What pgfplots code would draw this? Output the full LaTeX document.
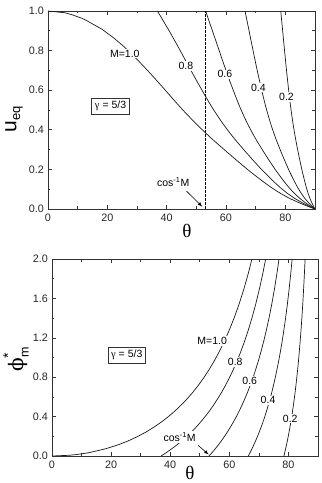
\documentclass[border=0pt]{standalone}
\usepackage{pgfplots}
\pgfplotsset{compat=1.18}
\usepackage{pgfplotstable}
\usepackage{fontspec}
\setmainfont{Liberation Sans}
\newfontfamily\grk{Liberation Serif}
\newfontfamily\djs{DejaVu Serif}

\pgfplotstableread{
x u t10 t08 t06 t04 t02
1.000 1.000 0.00 36.87 53.13 66.42 78.46
0.995 0.991 5.73 37.25 53.34 66.55 78.52
0.990 0.981 8.11 37.63 53.56 66.67 78.58
0.980 0.963 11.48 38.38 53.98 66.92 78.70
0.975 0.953 12.84 38.74 54.20 67.05 78.76
0.950 0.908 18.19 40.54 55.25 67.67 79.05
0.925 0.862 22.33 42.27 56.29 68.28 79.34
0.900 0.817 25.84 43.95 57.32 68.90 79.63
0.875 0.772 28.96 45.57 58.33 69.51 79.92
0.850 0.728 31.79 47.16 59.34 70.12 80.21
0.825 0.686 34.41 48.70 60.33 70.73 80.50
0.800 0.645 36.87 50.21 61.31 71.34 80.79
0.775 0.606 39.19 51.68 62.29 71.94 81.08
0.750 0.568 41.41 53.13 63.26 72.54 81.37
0.725 0.532 43.53 54.55 64.21 73.14 81.66
0.700 0.498 45.57 55.94 65.17 73.74 81.95
0.675 0.467 47.55 57.32 66.11 74.34 82.24
0.650 0.437 49.46 58.67 67.05 74.93 82.53
0.625 0.410 51.32 60.00 67.98 75.52 82.82
0.600 0.384 53.13 61.31 68.90 76.11 83.11
0.575 0.359 54.90 62.61 69.82 76.70 83.40
0.550 0.336 56.63 63.90 70.73 77.29 83.68
0.525 0.314 58.33 65.17 71.64 77.88 83.97
0.500 0.292 60.00 66.42 72.54 78.46 84.26
0.475 0.271 61.64 67.67 73.44 79.05 84.55
0.450 0.250 63.26 68.90 74.34 79.63 84.84
0.425 0.230 64.85 70.12 75.23 80.21 85.12
0.400 0.210 66.42 71.34 76.11 80.79 85.41
0.375 0.191 67.98 72.54 77.00 81.37 85.70
0.350 0.173 69.51 73.74 77.88 81.95 85.99
0.300 0.138 72.54 76.11 79.63 83.11 86.56
0.250 0.106 75.52 78.46 81.37 84.26 87.13
0.200 0.078 78.46 80.79 83.11 85.41 87.71
0.150 0.054 81.37 83.11 84.84 86.56 88.28
0.100 0.034 84.26 85.41 86.56 87.71 88.85
0.050 0.016 87.13 87.71 88.28 88.85 89.43
0.000 0.000 90.00 90.00 90.00 90.00 90.00
}\ueqtable

\pgfplotstableread{
x p t10 t08 t06 t04 t02
1.000 0.0000 0.00 36.87 53.13 66.42 78.46
0.995 0.0071 5.73 37.25 53.34 66.55 78.52
0.990 0.0142 8.11 37.63 53.56 66.67 78.58
0.980 0.0286 11.48 38.38 53.98 66.92 78.70
0.975 0.0360 12.84 38.74 54.20 67.05 78.76
0.950 0.0736 18.19 40.54 55.25 67.67 79.05
0.925 0.1130 22.33 42.27 56.29 68.28 79.34
0.900 0.1543 25.84 43.95 57.32 68.90 79.63
0.875 0.1976 28.96 45.57 58.33 69.51 79.92
0.850 0.2432 31.79 47.16 59.34 70.12 80.21
0.825 0.2912 34.41 48.70 60.33 70.73 80.50
0.800 0.3418 36.87 50.21 61.31 71.34 80.79
0.775 0.3952 39.19 51.68 62.29 71.94 81.08
0.750 0.4518 41.41 53.13 63.26 72.54 81.37
0.725 0.5117 43.53 54.55 64.21 73.14 81.66
0.700 0.5754 45.57 55.94 65.17 73.74 81.95
0.675 0.6431 47.55 57.32 66.11 74.34 82.24
0.650 0.7155 49.46 58.67 67.05 74.93 82.53
0.625 0.7928 51.32 60.00 67.98 75.52 82.82
0.600 0.8758 53.13 61.31 68.90 76.11 83.11
0.575 0.9651 54.90 62.61 69.82 76.70 83.40
0.550 1.0614 56.63 63.90 70.73 77.29 83.68
0.525 1.1657 58.33 65.17 71.64 77.88 83.97
0.500 1.2790 60.00 66.42 72.54 78.46 84.26
0.475 1.4028 61.64 67.67 73.44 79.05 84.55
0.450 1.5385 63.26 68.90 74.34 79.63 84.84
0.425 1.6880 64.85 70.12 75.23 80.21 85.12
0.400 1.8538 66.42 71.34 76.11 80.79 85.41
0.375 2.0388 67.98 72.54 77.00 81.37 85.70
}\phitable

\pgfplotsset{
  panel/.style={
    scale only axis,
    xmin=0, xmax=90,
    xtick={0,20,40,60,80},
    minor x tick num=1,
    tick align=inside,
    xtick pos=both, ytick pos=both,
    major tick length=4pt, minor tick length=2.5pt,
    axis line style={draw=black!80, line width=0.8pt},
    every tick/.style={black!80, line width=0.6pt},
    tick label style={font=\fontsize{10.8}{10.8}\selectfont, text=black!85},
    /pgf/number format/assume math mode=true,
    yticklabel style={/pgf/number format/fixed, /pgf/number format/fixed zerofill, /pgf/number format/precision=1, xshift=-0.5pt},
    xticklabel style={yshift=-1pt},
    clip=true,
  },
  crv/.style={black!90, line width=0.7pt, no markers},
}
\tikzset{
  lab/.style={fill=white, inner sep=1pt, font=\fontsize{10.5}{10.5}\selectfont},
  gbox/.style={draw=black!80, line width=0.7pt, fill=white, inner sep=3.2pt, font=\fontsize{10.5}{10.5}\selectfont},
}

\begin{document}
\begin{tikzpicture}[x=1pt,y=1pt]
\useasboundingbox (0,0) rectangle (322,483);

% ---------- top panel ----------
\begin{axis}[panel, at={(48pt,274pt)}, anchor=south west,
  width=267pt, height=198pt,
  ymin=0, ymax=1, ytick={0,0.2,0.4,0.6,0.8,1.0}, minor y tick num=1]
  \addplot[crv] table[x=t10, y=u] {\ueqtable};
  \addplot[crv] table[x=t08, y=u] {\ueqtable};
  \addplot[crv] table[x=t06, y=u] {\ueqtable};
  \addplot[crv] table[x=t04, y=u] {\ueqtable};
  \addplot[crv] table[x=t02, y=u] {\ueqtable};
  \addplot[black, line width=0.6pt, dash pattern=on 2.5pt off 1.5pt] coordinates {(53.13,0) (53.13,1)};
  \node[lab] at (axis cs:25.9,0.785) {M=1.0};
  \node[lab] at (axis cs:46.5,0.723) {0.8};
  \node[lab] at (axis cs:59.6,0.680) {0.6};
  \node[lab] at (axis cs:70.9,0.614) {0.4};
  \node[lab] at (axis cs:80.4,0.566) {0.2};
  \node[gbox] at (axis cs:21.1,0.52) {{\grk γ} = 5/3};
  \node[font=\fontsize{10.5}{10.5}\selectfont] at (axis cs:42.2,0.135) {cos\textsuperscript{-1}M};
  \draw[-{latex}, black, line width=0.6pt] (axis cs:46.7,0.09) -- (axis cs:52.0,0.012);
\end{axis}
\node[font=\fontsize{19}{19}\selectfont\grk] at (187,252) {θ};
\node[rotate=90, font=\fontsize{21}{21}\selectfont] at (14,364) {u\raisebox{-0.35ex}{\fontsize{13}{13}\selectfont eq}};

% ---------- bottom panel ----------
\begin{axis}[panel, at={(52pt,27pt)}, anchor=south west,
  width=266pt, height=197pt,
  ymin=0, ymax=2, ytick={0,0.4,0.8,1.2,1.6,2.0}, minor y tick num=1]
  \addplot[crv] table[x=t10, y=p] {\phitable};
  \addplot[crv] table[x=t08, y=p] {\phitable};
  \addplot[crv] table[x=t06, y=p] {\phitable};
  \addplot[crv] table[x=t04, y=p] {\phitable};
  \addplot[crv] table[x=t02, y=p] {\phitable};
  \node[lab] at (axis cs:54.2,1.166) {M=1.0};
  \node[lab] at (axis cs:62.0,0.956) {0.8};
  \node[lab] at (axis cs:66.9,0.763) {0.6};
  \node[lab] at (axis cs:73.1,0.566) {0.4};
  \node[lab] at (axis cs:80.6,0.380) {0.2};
  \node[gbox] at (axis cs:25.3,1.024) {{\grk γ} = 5/3};
  \node[lab] at (axis cs:43.2,0.193) {cos\textsuperscript{-1}M};
  \draw[-{latex}, black, line width=0.6pt] (axis cs:49.4,0.109) -- (axis cs:53.0,0.015);
\end{axis}
\node[font=\fontsize{19}{19}\selectfont\grk] at (190,10) {θ};
\node[rotate=90, font=\fontsize{20}{20}\selectfont] at (16,121) {{\djs ϕ}\raisebox{-0.5ex}{\fontsize{12.5}{12.5}\selectfont m}\hspace{-0.55em}\raisebox{1.0ex}{\fontsize{14}{14}\selectfont *}};
\end{tikzpicture}
\end{document}
